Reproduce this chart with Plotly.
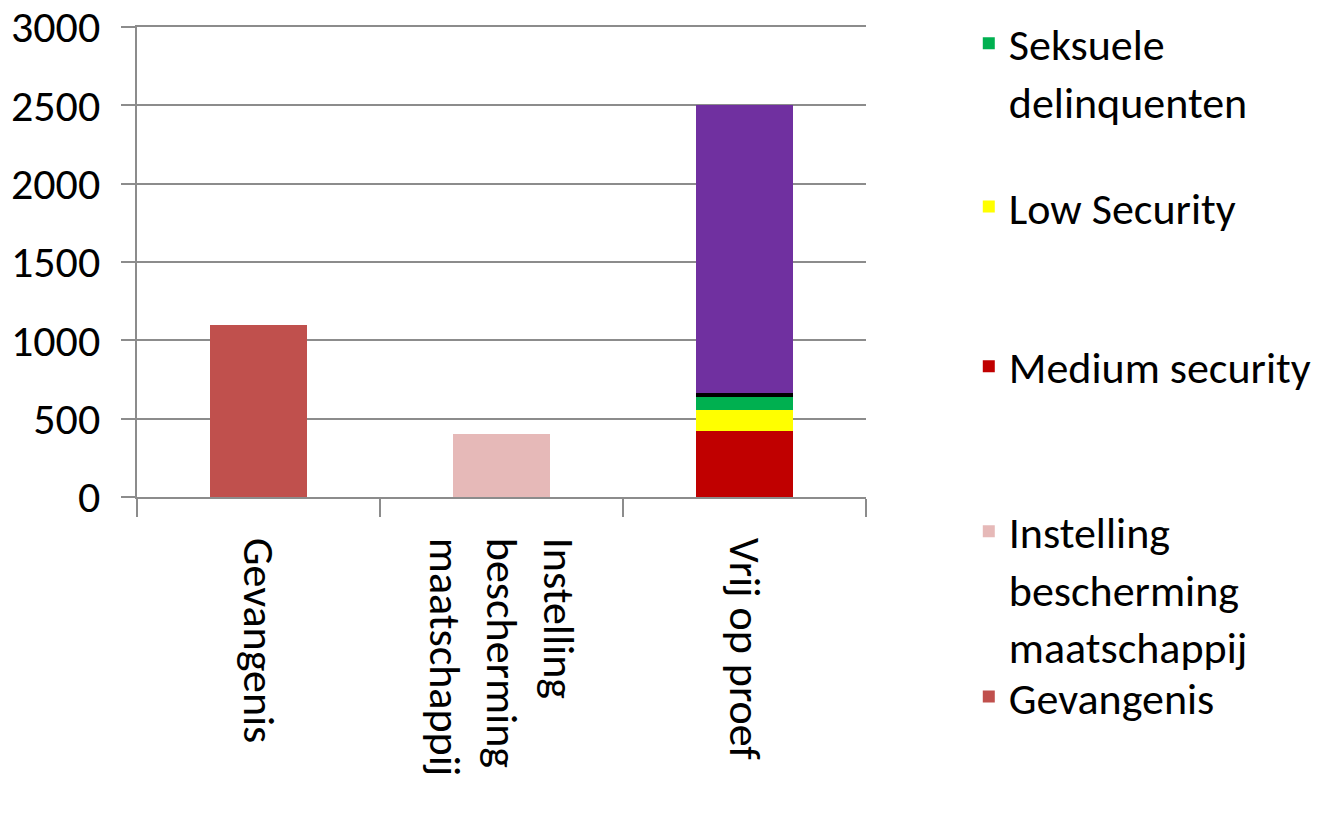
import plotly.graph_objects as go

categories = ["Gevangenis", "Instelling<br>bescherming<br>maatschappij", "Vrij op proef"]
gevangenis = [1100, 0, 0]
instelling = [0, 400, 0]
medium_security = [0, 0, 420]
low_security = [0, 0, 135]
seksuele_delinquenten = [0, 0, 85]
reeks_zwart = [0, 0, 25]
reeks_paars = [0, 0, 1835]
y_ticks = [0, 500, 1000, 1500, 2000, 2500, 3000]

FONT = "Carlito, Calibri, Liberation Sans, Arial, sans-serif"
GRID = "#8c8c8c"
FS = 44

series = [
    ("Gevangenis", gevangenis, "#C0504D", True, "legend5"),
    ("Instelling<br>bescherming<br>maatschappij", instelling, "#E6B9B8", True, "legend4"),
    ("Medium security", medium_security, "#C00000", True, "legend3"),
    ("Low Security", low_security, "#FFFF00", True, "legend2"),
    ("Seksuele<br>delinquenten", seksuele_delinquenten, "#00B050", True, "legend"),
    ("Reeks 6", reeks_zwart, "#000000", False, "legend"),
    ("Reeks 7", reeks_paars, "#7030A0", False, "legend"),
]

fig = go.Figure()
for name, vals, color, show, leg in series:
    fig.add_trace(go.Bar(
        x=categories, y=vals, name=name,
        marker=dict(color=color, line=dict(width=0)),
        showlegend=show, legend=leg,
    ))

legend_common = dict(
    x=1.141, xanchor="left", yanchor="top", valign="top",
    bgcolor="rgba(0,0,0,0)", font=dict(family=FONT, size=FS, color="#000000"),
    itemwidth=30,
)
fig.update_layout(
    barmode="stack",
    bargap=0.6,
    width=1318, height=819,
    margin=dict(l=137, r=452, t=27, b=322, autoexpand=False),
    plot_bgcolor="white", paper_bgcolor="white",
    font=dict(family=FONT, size=FS, color="#000000"),
    legend=dict(y=1.040, **legend_common),
    legend2=dict(y=0.693, **legend_common),
    legend3=dict(y=0.353, **legend_common),
    legend4=dict(y=0.002, **legend_common),
    legend5=dict(y=-0.350, **legend_common),
    xaxis=dict(
        type="category", tickangle=90, showline=True, linecolor=GRID, linewidth=2,
        mirror=True,
        ticks="outside", tickson="boundaries", ticklen=18, tickcolor=GRID, tickwidth=2,
        showgrid=False, tickfont=dict(family=FONT, size=FS), ticklabelstandoff=30,
        ticklabeloverflow="allow",
    ),
    yaxis=dict(
        range=[0, 3000], tickvals=y_ticks, showline=True, linecolor=GRID, linewidth=2,
        ticks="outside", ticklen=14, tickcolor=GRID, tickwidth=2,
        showgrid=True, gridcolor=GRID, gridwidth=2, zeroline=False,
        tickfont=dict(family=FONT, size=FS), ticklabelstandoff=12,
        ticklabeloverflow="allow",
    ),
)

fig.write_html(
    "out.html",
    config={"displayModeBar": False},
    post_script="document.body.style.margin='0';",
)
